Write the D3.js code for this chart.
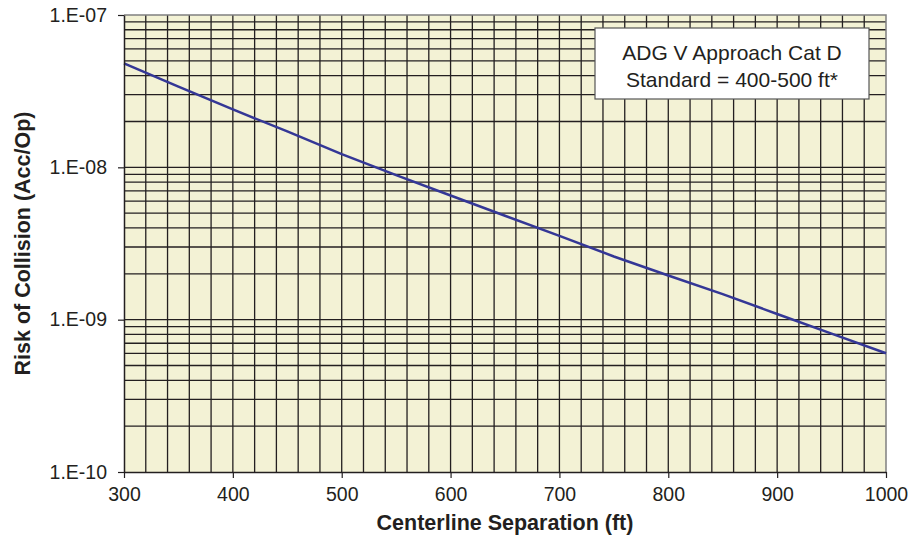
<!DOCTYPE html>
<html>
<head>
<meta charset="utf-8">
<script src="https://cdn.jsdelivr.net/npm/d3@7"></script>
<style>
  body { margin: 0; background: #fff; }
  text { font-family: "Liberation Sans", Arial, sans-serif; fill: #231f20; }
</style>
</head>
<body>
<div id="chart"></div>
<script>
// data
var separation = [300, 350, 400, 450, 500, 550, 600, 650, 700, 750, 800, 850, 900, 950, 1000];
var risk = [4.82e-8, 3.39e-8, 2.40e-8, 1.72e-8, 1.22e-8, 8.88e-9, 6.53e-9, 4.81e-9,
            3.55e-9, 2.60e-9, 1.95e-9, 1.47e-9, 1.09e-9, 8.10e-10, 6.02e-10];
var xTicks = [300, 400, 500, 600, 700, 800, 900, 1000];
var yTicks = [1e-10, 1e-9, 1e-8, 1e-7];
var yTickLabels = ["1.E-10", "1.E-09", "1.E-08", "1.E-07"];
var legendLines = ["ADG V Approach Cat D", "Standard = 400-500 ft*"];

var margin = { top: 15, right: 27, bottom: 72, left: 124 },
    width = 913 - margin.left - margin.right,
    height = 544 - margin.top - margin.bottom;

var svg = d3.select("#chart").append("svg")
    .attr("width", 913)
    .attr("height", 544)
  .append("g")
    .attr("transform", "translate(" + margin.left + "," + margin.top + ")");

var x = d3.scaleLinear().domain([300, 1000]).range([0, width]);
var y = d3.scaleLog().domain([1e-10, 1e-7]).range([height, 0]);

// plot background
svg.append("rect")
    .attr("width", width).attr("height", height)
    .attr("fill", "#f3f2d5");

// vertical grid every 20 ft
var xGrid = d3.range(320, 1000, 20);
svg.selectAll(".vgrid").data(xGrid).enter().append("line")
    .attr("x1", function(d) { return x(d); })
    .attr("x2", function(d) { return x(d); })
    .attr("y1", 0).attr("y2", height)
    .attr("stroke", "#231f20").attr("stroke-width", 1.3);

// horizontal grid at 1..9 of every decade
var yGrid = y.ticks().filter(function(d) { return d > 1e-10 && d < 1e-7; });
svg.selectAll(".hgrid").data(yGrid).enter().append("line")
    .attr("x1", 0).attr("x2", width)
    .attr("y1", function(d) { return y(d); })
    .attr("y2", function(d) { return y(d); })
    .attr("stroke", "#231f20").attr("stroke-width", 1.3);

// frame: top/right gray
svg.append("path")
    .attr("d", "M0,0H" + width + "V" + height)
    .attr("fill", "none").attr("stroke", "#808080").attr("stroke-width", 1.5);

// the risk curve
var line = d3.line()
    .x(function(d, i) { return x(separation[i]); })
    .y(function(d) { return y(d); });

svg.append("path")
    .datum(risk)
    .attr("d", line)
    .attr("fill", "none")
    .attr("stroke", "#343796")
    .attr("stroke-width", 2.5);

// x axis
var xAxis = svg.append("g")
    .attr("transform", "translate(0," + height + ")")
    .call(d3.axisBottom(x).tickValues(xTicks).tickFormat(d3.format("d"))
        .tickSize(6).tickPadding(9).tickSizeOuter(0));
xAxis.select(".domain").attr("stroke", "#231f20").attr("stroke-width", 1.5);
xAxis.selectAll(".tick line").attr("stroke", "#231f20").attr("stroke-width", 1.2);
xAxis.selectAll("text").style("font-size", "19.5px").attr("fill", "#231f20")
    .style("font-family", "Liberation Sans, Arial, sans-serif");

// y axis
var yAxis = svg.append("g")
    .call(d3.axisLeft(y).tickValues(yTicks)
        .tickFormat(function(d, i) { return yTickLabels[i]; })
        .tickSize(6).tickPadding(11).tickSizeOuter(0));
yAxis.select(".domain").attr("stroke", "#231f20").attr("stroke-width", 1.5);
yAxis.selectAll(".tick line").attr("stroke", "#231f20").attr("stroke-width", 1.2);
yAxis.selectAll("text").style("font-size", "19.5px").attr("fill", "#231f20")
    .style("font-family", "Liberation Sans, Arial, sans-serif");

// axis titles
svg.append("text")
    .attr("x", x(650)).attr("y", height + 58)
    .attr("text-anchor", "middle")
    .style("font-size", "21.5px").style("font-weight", "bold")
    .text("Centerline Separation (ft)");

svg.append("text")
    .attr("transform", "translate(-94," + (height / 2) + ") rotate(-90)")
    .attr("text-anchor", "middle")
    .style("font-size", "21.5px").style("font-weight", "bold")
    .text("Risk of Collision (Acc/Op)");

// legend box
var lg = svg.append("g").attr("transform", "translate(471,13)");
lg.append("rect")
    .attr("width", 274).attr("height", 71)
    .attr("fill", "#fff").attr("stroke", "#555").attr("stroke-width", 1.2);
lg.selectAll(".lt").data(legendLines).enter().append("text")
    .attr("x", 137)
    .attr("y", function(d, i) { return 32 + i * 27; })
    .attr("text-anchor", "middle")
    .style("font-size", "21px")
    .text(function(d) { return d; });
</script>
</body>
</html>
